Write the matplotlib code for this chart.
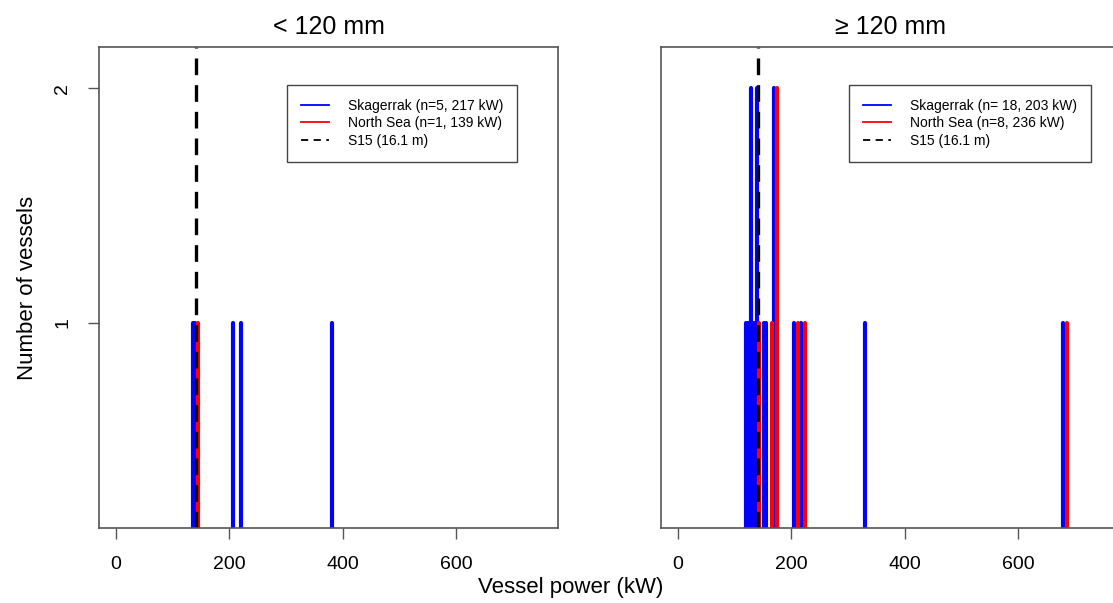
import numpy as np
import matplotlib.pyplot as plt

plt.rcParams['font.family'] = ['Liberation Sans', 'DejaVu Sans']

# vessel power (kW) and number of vessels
small_sk_kw = [136, 140, 206, 221, 381]
small_sk_n = [1, 1, 1, 1, 1]
small_ns_kw = [144]
small_ns_n = [1]

large_sk_kw = [120, 123, 126, 128, 131, 134, 137, 139, 152, 155, 169, 205, 217, 330, 680]
large_sk_n = [1, 1, 1, 2, 1, 1, 1, 2, 1, 1, 2, 1, 1, 1, 1]
large_ns_kw = [143, 165, 174, 211, 224, 686]
large_ns_n = [1, 1, 2, 1, 1, 1]

s15_kw = 142
titles = ["< 120 mm", "\u2265 120 mm"]
legend_labels = [
    ["Skagerrak (n=5, 217 kW)", "North Sea (n=1, 139 kW)", "S15 (16.1 m)"],
    ["Skagerrak (n= 18, 203 kW)", "North Sea (n=8, 236 kW)", "S15 (16.1 m)"],
]
xticks = [0, 200, 400, 600]

W, H = 1113, 603
fig = plt.figure(figsize=(W / 100, H / 100), dpi=100)
ax1 = fig.add_axes([99 / W, 1 - 528 / H, 459 / W, 481 / H])
ax2 = fig.add_axes([661 / W, 1 - 528 / H, 459 / W, 481 / H])

frame_col = '#555555'
panels = [
    (ax1, small_sk_kw, small_sk_n, small_ns_kw, small_ns_n),
    (ax2, large_sk_kw, large_sk_n, large_ns_kw, large_ns_n),
]
for i, (ax, skx, skn, nsx, nsn) in enumerate(panels):
    ax.vlines(skx, 0, skn, color='#0000ff', lw=3.0, capstyle='round')
    ax.vlines(nsx, 0, nsn, color='#ff0000', lw=3.0, capstyle='round')
    ax.axvline(s15_kw, color='black', lw=2.4, dashes=(5, 3))
    ax.set_xlim(-30, 780)
    ax.set_ylim(0.124, 2.176)
    ax.set_xticks(xticks)
    ax.tick_params(axis='x', direction='out', length=8, width=1, color=frame_col,
                   labelsize=14, pad=12)
    if i == 0:
        ax.set_yticks([1, 2])
        ax.set_yticklabels(['1', '2'], rotation=90, va='center')
        ax.tick_params(axis='y', direction='out', length=8, width=1, color=frame_col,
                       labelsize=14, pad=12)
    else:
        ax.set_yticks([])
    for sp in ax.spines.values():
        sp.set_color(frame_col)
        sp.set_linewidth(1.2)
    ax.set_title(titles[i], fontsize=18, pad=9)

    handles = [
        plt.Line2D([], [], color='#0000ff', lw=1.3),
        plt.Line2D([], [], color='#ff0000', lw=1.3),
        plt.Line2D([], [], color='black', lw=1.3, dashes=(4, 3)),
    ]
    leg = ax.legend(handles, legend_labels[i], loc='upper left',
                    bbox_to_anchor=(0.4096, 0.921), fontsize=10, frameon=True,
                    fancybox=False, framealpha=1, edgecolor='#444444',
                    borderpad=1.0, labelspacing=0.25, handlelength=2.0,
                    handletextpad=1.4, borderaxespad=0)
    leg.get_frame().set_linewidth(1.0)

fig.text(571 / W, 1 - 587 / H, "Vessel power (kW)", ha='center', va='center', fontsize=16)
fig.text(28 / W, 1 - 288 / H, "Number of vessels", ha='center', va='center',
         rotation=90, fontsize=16)

fig.savefig('out.png', dpi=100)
